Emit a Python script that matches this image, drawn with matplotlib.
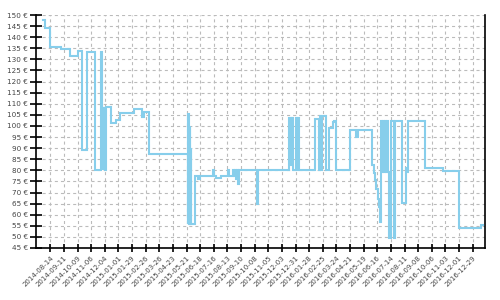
import matplotlib
matplotlib.use("Agg")
import matplotlib.pyplot as plt
import matplotlib.dates as mdates
import numpy as np
import datetime as dt

dates = ["2014-07-31", "2014-08-04", "2014-08-13", "2014-09-04", "2014-09-23", "2014-10-09",
         "2014-10-19", "2014-10-29", "2014-11-13", "2014-11-27", "2014-11-28", "2014-11-29",
         "2014-11-30", "2014-12-01", "2014-12-02", "2014-12-03", "2014-12-04", "2014-12-06",
         "2014-12-16", "2014-12-28", "2015-01-05", "2015-02-02", "2015-02-18", "2015-02-22",
         "2015-03-04", "2015-05-23", "2015-05-24", "2015-05-25", "2015-05-26", "2015-05-27",
         "2015-05-28", "2015-05-29", "2015-05-30", "2015-05-31", "2015-06-08", "2015-06-14",
         "2015-06-18", "2015-07-15", "2015-07-17", "2015-07-20", "2015-07-30", "2015-08-15",
         "2015-08-17", "2015-08-24", "2015-08-26", "2015-08-28", "2015-08-30", "2015-09-01",
         "2015-09-03", "2015-09-06", "2015-10-12", "2015-10-15", "2015-12-17", "2015-12-21",
         "2015-12-24", "2015-12-26", "2016-01-01", "2016-01-03", "2016-01-05", "2016-01-07",
         "2016-01-09", "2016-02-08", "2016-02-17", "2016-02-19", "2016-02-21", "2016-02-23",
         "2016-02-25", "2016-03-03", "2016-03-09", "2016-03-16", "2016-03-19", "2016-03-24",
         "2016-04-21", "2016-05-04", "2016-05-08", "2016-06-05", "2016-06-09", "2016-06-12",
         "2016-06-14", "2016-06-17", "2016-06-19", "2016-06-21", "2016-06-23", "2016-06-25",
         "2016-06-27", "2016-06-29", "2016-07-01", "2016-07-03", "2016-07-05", "2016-07-07",
         "2016-07-10", "2016-07-15", "2016-07-21", "2016-07-23", "2016-08-05", "2016-08-14",
         "2016-08-16", "2016-08-18", "2016-09-22", "2016-10-28", "2016-11-30", "2017-01-16",
         "2017-01-19"]
prices = [147.6, 144.0, 135.4, 134.5, 131.3, 134.0,
          89.2, 133.5, 80.0, 133.5, 80.0, 108.0,
          80.0, 108.0, 80.0, 108.0, 80.0, 108.4,
          101.4, 102.7, 106.0, 107.5, 104.2, 106.4,
          87.5, 56.0, 105.3, 56.0, 105.0, 56.0,
          100.0, 56.0, 90.0, 56.0, 77.4, 76.3,
          77.4, 80.0, 77.4, 76.5, 77.4, 80.0,
          77.4, 80.0, 77.4, 80.0, 76.0, 80.0,
          74.0, 80.2, 64.7, 80.2, 103.4, 82.6,
          103.4, 80.0, 103.4, 80.0, 103.4, 80.0,
          80.0, 103.1, 80.0, 104.6, 80.0, 104.6,
          104.6, 80.0, 99.0, 101.9, 102.4, 80.0,
          98.2, 94.9, 98.2, 82.4, 78.6, 75.6,
          71.8, 67.3, 63.5, 56.8, 102.4, 79.3,
          102.4, 79.3, 102.4, 79.3, 102.4, 79.3,
          49.7, 102.4, 49.7, 102.4, 65.2, 81.2,
          79.3, 102.4, 81.2, 79.8, 54.2, 55.4,
          55.4]

tick_start = "2014-08-14"
tick_end = "2016-12-29"
tick_step_days = 28
y_ticks = list(range(45, 151, 5))

plt.rcParams['lines.scale_dashes'] = False
fig = plt.figure(figsize=(5, 3), dpi=100)
ax = fig.add_axes([36/500, 1-248/300, (485-36)/500, (248-15)/300])

d = [dt.datetime.strptime(s, "%Y-%m-%d") for s in dates]
ax.step(d, prices, where='post', color='#87CEEB', lw=1.5, solid_joinstyle='miter', zorder=3)

t0 = dt.datetime.strptime(tick_start, "%Y-%m-%d")
t1 = dt.datetime.strptime(tick_end, "%Y-%m-%d")
ticks = []
t = t0
while t <= t1:
    ticks.append(t)
    t += dt.timedelta(days=tick_step_days)
ax.set_xticks(ticks)
ax.set_xticklabels([x.strftime("%Y-%m-%d") for x in ticks], rotation=45, ha='right',
                   rotation_mode='anchor', fontsize=5, color='#444444')
ax.set_yticks(y_ticks)
ax.set_yticklabels([f"{v} €" for v in y_ticks], fontsize=5.2, color='#444444')
ax.set_ylim(45, 150)
ax.set_xlim(t0 - dt.timedelta(days=29.4), t0 + dt.timedelta(days=893.3))

ax.tick_params(axis='y', direction='inout', length=8, width=1.2, pad=2)
ax.tick_params(axis='x', direction='inout', length=6, width=1.2, pad=2)
ax.grid(True, color='#bbbbbb', lw=0.8, linestyle=(0, (2.2, 2.2)), zorder=0)
ax.spines['top'].set_visible(False)
for s in ['left', 'bottom', 'right']:
    ax.spines[s].set_linewidth(1.2)

fig.savefig("out.png", dpi=100)
